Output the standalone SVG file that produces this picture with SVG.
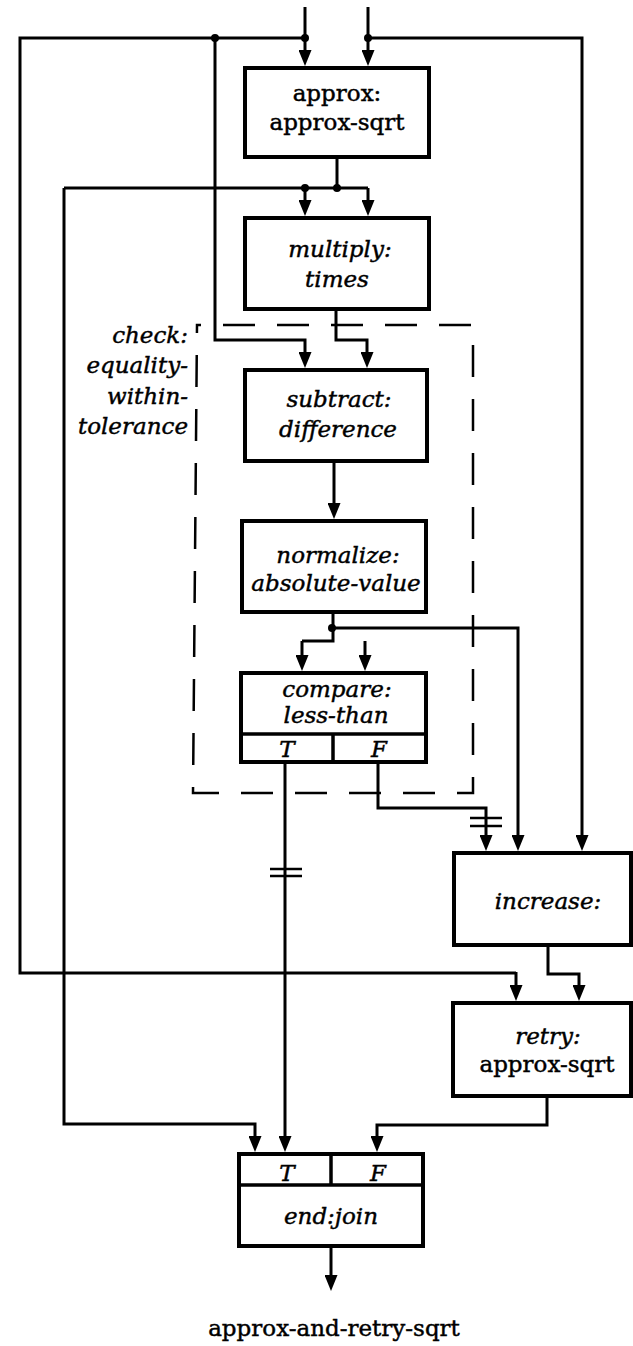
<svg xmlns="http://www.w3.org/2000/svg" width="633" height="1346" viewBox="0 0 633 1346">
<style>
.box{fill:#fff;stroke:#000;stroke-width:4}
.div{fill:none;stroke:#000;stroke-width:3.5}
.c{fill:none;stroke:#000;stroke-width:3;stroke-linejoin:miter}
.ca{fill:none;stroke:#000;stroke-width:3;marker-end:url(#ah)}
.tick{stroke:#000;stroke-width:2.5}
.dash{fill:none;stroke:#000;stroke-width:2.5;stroke-dasharray:32 22;stroke-dashoffset:28}
.dot{fill:#000}
text{font-family:"DejaVu Serif","Liberation Serif",serif;font-size:23px;fill:#000;stroke:#000;stroke-width:0.45;text-anchor:middle}
.i{font-style:italic}
.r{text-anchor:end}
</style>
<defs>
<marker id="ah" markerUnits="userSpaceOnUse" markerWidth="16" markerHeight="13" refX="8" refY="6.5" orient="auto" viewBox="0 0 16 13"><path d="M0,0 L16,6.5 L0,13 Z" fill="#000"/></marker>
</defs>

<g id="check-region">
<path class="dash" d="M197,325 L473,325 L473,793 L193,793 Z"/>
<text class="i r" x="188" y="343">check:</text>
<text class="i r" x="188" y="373">equality-</text>
<text class="i r" x="188" y="404">within-</text>
<text class="i r" x="188" y="434">tolerance</text>
</g>

<g id="connectors">
<path class="ca" d="M305,7 L305,58"/>
<path class="ca" d="M368,7 L368,58"/>
<path class="c" d="M305,38 L20,38 L20,973 L516,973"/>
<path class="ca" d="M516,972 L516,993"/>
<path class="ca" d="M215,38 L215,340 L305,340 L305,360"/>
<path class="ca" d="M368,38 L582,38 L582,843"/>
<path class="c" d="M337,157 L337,188"/>
<path class="c" d="M64,188 L368,188"/>
<path class="ca" d="M305,188 L305,208"/>
<path class="ca" d="M368,188 L368,208"/>
<path class="ca" d="M64,188 L64,1124 L255,1124 L255,1144"/>
<path class="ca" d="M336,309 L336,340 L367,340 L367,360"/>
<path class="ca" d="M334,461 L334,511"/>
<path class="c" d="M333,612 L333,641 L302,641"/>
<path class="ca" d="M302,641 L302,663"/>
<path class="ca" d="M333,628 L518,628 L518,843"/>
<path class="ca" d="M365,641 L365,663"/>
<path class="ca" d="M285,762 L285,1144"/>
<line class="tick" x1="270" y1="869" x2="302" y2="869"/>
<line class="tick" x1="270" y1="876" x2="302" y2="876"/>
<path class="ca" d="M378,762 L378,808 L486,808 L486,843"/>
<line class="tick" x1="470" y1="818" x2="502" y2="818"/>
<line class="tick" x1="470" y1="826" x2="502" y2="826"/>
<path class="ca" d="M548,945 L548,974 L579,974 L579,993"/>
<path class="ca" d="M547,1096 L547,1125 L377,1125 L377,1144"/>
<path class="ca" d="M331,1246 L331,1283"/>
<circle class="dot" cx="215" cy="38" r="4"/>
<circle class="dot" cx="305" cy="38" r="4"/>
<circle class="dot" cx="368" cy="38" r="4"/>
<circle class="dot" cx="305" cy="188" r="4"/>
<circle class="dot" cx="337" cy="188" r="4"/>
<circle class="dot" cx="332" cy="628" r="4"/>
</g>

<g id="approx">
<rect class="box" x="245" y="68" width="184" height="89"/>
<text x="337" y="101">approx:</text>
<text x="337" y="130">approx-sqrt</text>
</g>

<g id="multiply">
<rect class="box" x="245" y="218" width="184" height="91"/>
<text class="i" x="340" y="257">multiply:</text>
<text class="i" x="337" y="287">times</text>
</g>

<g id="subtract">
<rect class="box" x="245" y="370" width="182" height="91"/>
<text class="i" x="339" y="407">subtract:</text>
<text class="i" x="338" y="437">difference</text>
</g>

<g id="normalize">
<rect class="box" x="242" y="521" width="184" height="91"/>
<text class="i" x="338" y="563">normalize:</text>
<text class="i" x="336" y="591">absolute-value</text>
</g>

<g id="compare">
<rect class="box" x="241" y="673" width="185" height="89"/>
<line class="div" x1="241" y1="734" x2="426" y2="734"/>
<line class="div" x1="333" y1="734" x2="333" y2="762"/>
<text class="i" x="337" y="697">compare:</text>
<text class="i" x="336" y="723">less-than</text>
<text class="i" x="287" y="757">T</text>
<text class="i" x="379" y="757">F</text>
</g>

<g id="increase">
<rect class="box" x="454" y="853" width="177" height="92"/>
<text class="i" x="548" y="909">increase:</text>
</g>

<g id="retry">
<rect class="box" x="453" y="1003" width="178" height="93"/>
<text class="i" x="548" y="1044">retry:</text>
<text x="547" y="1072">approx-sqrt</text>
</g>

<g id="end">
<rect class="box" x="239" y="1154" width="184" height="92"/>
<line class="div" x1="239" y1="1185" x2="423" y2="1185"/>
<line class="div" x1="331" y1="1154" x2="331" y2="1185"/>
<text class="i" x="287" y="1181">T</text>
<text class="i" x="378" y="1181">F</text>
<text class="i" x="331" y="1224">end:join</text>
</g>

<g id="title">
<text x="334" y="1336">approx-and-retry-sqrt</text>
</g>
</svg>
